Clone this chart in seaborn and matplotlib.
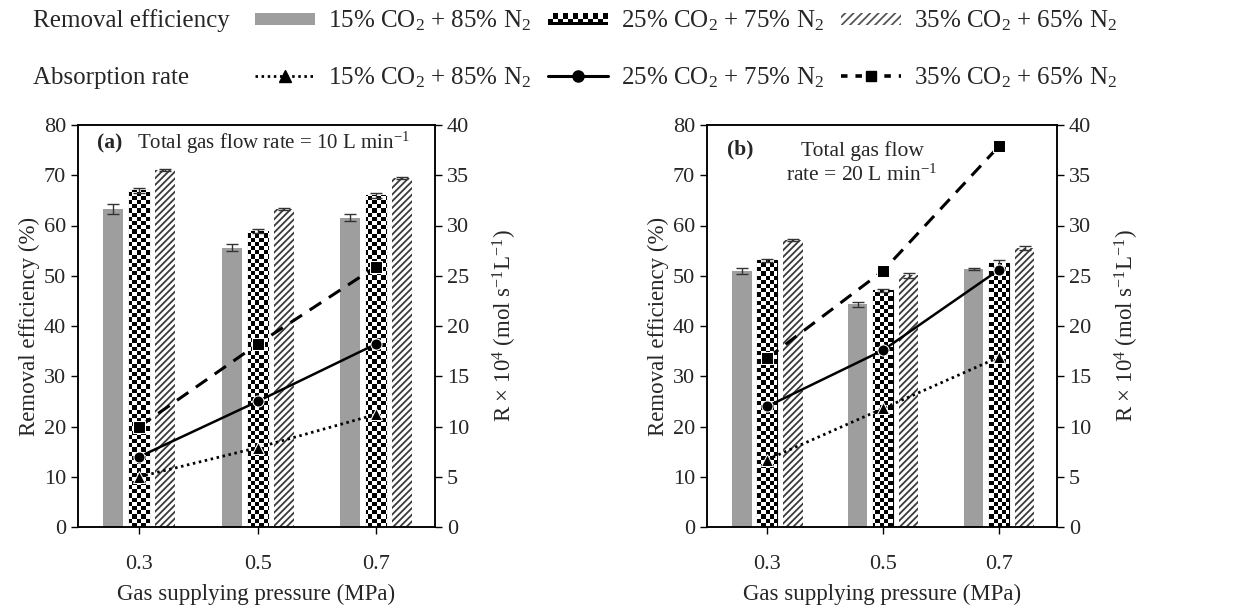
import numpy as np
import pandas as pd
import matplotlib
matplotlib.use("Agg")
import matplotlib.pyplot as plt
import seaborn as sns
from matplotlib.patches import Patch, Rectangle
from matplotlib.lines import Line2D
from matplotlib.legend_handler import HandlerBase

# ---- data -------------------------------------------------------------
pressures = ["0.3", "0.5", "0.7"]
gas_labels = ["15% CO$_\\mathrm{2}$ + 85% N$_\\mathrm{2}$",
              "25% CO$_\\mathrm{2}$ + 75% N$_\\mathrm{2}$",
              "35% CO$_\\mathrm{2}$ + 65% N$_\\mathrm{2}$"]

# removal efficiency (%) and its error, 10 L/min
eff_a_15 = [63.2, 55.6, 61.5]
eff_a_25 = [67.0, 59.0, 66.0]
eff_a_35 = [71.0, 63.2, 69.4]
err_a_15 = [1.0, 0.7, 0.7]
err_a_25 = [0.5, 0.4, 0.5]
err_a_35 = [0.2, 0.2, 0.2]

# removal efficiency (%) and its error, 20 L/min
eff_b_15 = [51.0, 44.3, 51.3]
eff_b_25 = [53.1, 47.1, 52.5]
eff_b_35 = [57.2, 50.1, 55.5]
err_b_15 = [0.6, 0.5, 0.2]
err_b_25 = [0.3, 0.3, 0.7]
err_b_35 = [0.2, 0.5, 0.4]

# absorption rate R x 10^4 (mol s^-1 L^-1)
rate_a_15 = [5.0, 7.9, 11.2]
rate_a_25 = [7.0, 12.5, 18.2]
rate_a_35 = [10.0, 18.2, 25.9]
rate_b_15 = [6.7, 11.8, 16.9]
rate_b_25 = [12.0, 17.6, 25.6]
rate_b_35 = [16.8, 25.5, 37.9]

panel_titles = ["(a)", "(b)"]
flow_texts = ["Total gas flow rate = 10 L min$^{-1}$",
              "Total gas flow\nrate = 20 L min$^{-1}$"]

# ---- style ------------------------------------------------------------
sns.set_style("ticks")
plt.rcParams["font.family"] = ["Liberation Serif", "DejaVu Serif"]
plt.rcParams["mathtext.fontset"] = "custom"
plt.rcParams["mathtext.rm"] = "Liberation Serif"
plt.rcParams["mathtext.it"] = "Liberation Serif:italic"
plt.rcParams["mathtext.bf"] = "Liberation Serif:bold"
plt.rcParams["hatch.linewidth"] = 1.3

GRAY = "#9e9e9e"
FS_TICK = 16
FS_LABEL = 16.5
FS_NOTE = 15.5
FS_LEG = 18

fig = plt.figure(figsize=(12.49, 6.12), dpi=100)
W, H = 1249, 612


def add_axes_px(left, right, top, bottom):
    return fig.add_axes([left / W, 1 - bottom / H, (right - left) / W, (bottom - top) / H])


ax_a = add_axes_px(78, 435, 125, 527)
ax_b = add_axes_px(707, 1057, 125, 527)


def checker_fill(ax, bar, cell_px=4.2):
    """Overlay a black/white checkerboard on a bar, clipped to its outline."""
    bb = ax.get_window_extent()
    nx = int(round(bb.width / cell_px))
    ny = int(round(bb.height / cell_px))
    board = (np.add.outer(np.arange(ny), np.arange(nx)) % 2).astype(float)
    im = ax.imshow(board, cmap="gray", vmin=0, vmax=1, extent=[0, 1, 0, 1],
                   transform=ax.transAxes, aspect="auto",
                   interpolation="nearest", zorder=1.5)
    im.set_clip_path(bar)


def draw_panel(ax, effs, errs, rates, title, flow_text, two_line):
    df = pd.DataFrame({
        "pressure": np.repeat([pressures], 3, axis=0).ravel(),
        "gas": np.repeat(gas_labels, 3),
        "eff": np.concatenate(effs),
    })
    sns.barplot(data=df, x="pressure", y="eff", hue="gas", order=pressures,
                hue_order=gas_labels, palette=[GRAY, "white", "white"],
                width=0.66, gap=0.23, errorbar=None, legend=False,
                linewidth=0, ax=ax, zorder=1)

    containers = ax.containers
    # 25 % bars: checkerboard with a black outline
    for bar in containers[1]:
        bar.set_edgecolor("black")
        bar.set_linewidth(0.8)
    # 35 % bars: dense diagonal hatch
    for bar in containers[2]:
        bar.set_hatch("/////")
        bar.set_edgecolor("#3a3a3a")
        bar.set_linewidth(0)

    ax.set_xlim(-0.52, 2.5)
    ax.set_ylim(0, 80)
    for bar in containers[1]:
        checker_fill(ax, bar)

    # error bars on each bar
    for cont, err in zip(containers, errs):
        xs = [b.get_x() + b.get_width() / 2 for b in cont]
        ys = [b.get_height() for b in cont]
        ax.errorbar(xs, ys, yerr=err, fmt="none", ecolor="#333333",
                    elinewidth=1.0, capsize=4, capthick=1.0, zorder=3)

    ax.set_xlim(-0.52, 2.5)
    ax.set_ylim(0, 80)
    ax.set_yticks(np.arange(0, 81, 10))
    ax.tick_params(axis="both", labelsize=FS_TICK, length=5, width=1,
                   color="black", direction="out")
    ax.tick_params(axis="x", pad=15)
    ax.set_xlabel("Gas supplying pressure (MPa)", fontsize=FS_LABEL, labelpad=7)
    ax.set_ylabel("Removal efficiency (%)", fontsize=FS_LABEL, labelpad=3)
    for sp in ax.spines.values():
        sp.set_linewidth(1.1)
        sp.set_color("black")

    # absorption rate on the secondary axis
    ax2 = ax.twinx()
    idx = np.arange(len(pressures))
    styles = [
        dict(linestyle=(0, (0.9, 1.3)), marker="^", markersize=8, linewidth=2.0),
        dict(linestyle="-", marker="o", markersize=8, linewidth=1.8),
        dict(linestyle=(0, (4.5, 3.0)), marker="s", markersize=8, linewidth=2.2),
    ]
    for r, st in zip(rates, styles):
        sns.lineplot(x=idx, y=r, ax=ax2, color="black", **st, zorder=4)
    ax2.set_ylim(0, 40)
    ax2.set_yticks(np.arange(0, 41, 5))
    ax2.set_xlim(-0.52, 2.5)
    ax2.tick_params(axis="y", labelsize=FS_TICK, length=5, width=1,
                    color="black", direction="out")
    ax2.set_ylabel("R × 10$^4$ (mol s$^{-1}$L$^{-1}$)", fontsize=FS_LABEL,
                   labelpad=16)
    for sp in ax2.spines.values():
        sp.set_linewidth(1.1)
        sp.set_color("black")

    if two_line:
        ax.text(0.057, 0.938, title, transform=ax.transAxes, fontsize=FS_NOTE,
                fontweight="bold", ha="left", va="center")
        ax.text(0.443, 0.905, flow_text, transform=ax.transAxes,
                fontsize=FS_NOTE, ha="center", va="center", linespacing=1.25)
    else:
        ax.text(0.053, 0.955, title, transform=ax.transAxes, fontsize=FS_NOTE,
                fontweight="bold", ha="left", va="center")
        ax.text(0.165, 0.955, flow_text, transform=ax.transAxes,
                fontsize=15, ha="left", va="center")


draw_panel(ax_a, [eff_a_15, eff_a_25, eff_a_35], [err_a_15, err_a_25, err_a_35],
           [rate_a_15, rate_a_25, rate_a_35], panel_titles[0], flow_texts[0], False)
draw_panel(ax_b, [eff_b_15, eff_b_25, eff_b_35], [err_b_15, err_b_25, err_b_35],
           [rate_b_15, rate_b_25, rate_b_35], panel_titles[1], flow_texts[1], True)


# ---- legend -----------------------------------------------------------
class CheckerHandler(HandlerBase):
    def create_artists(self, legend, orig_handle, xdescent, ydescent,
                       width, height, fontsize, trans):
        arts = []
        ncol = 12
        cw = width / ncol
        ch = height / 2
        for i in range(ncol):
            row = i % 2
            arts.append(Rectangle((-xdescent + i * cw, -ydescent + row * ch),
                                  cw, ch, facecolor="black", edgecolor="none",
                                  transform=trans))
        arts.append(Rectangle((-xdescent, -ydescent), width, height * 0.25,
                              facecolor="black", edgecolor="none",
                              transform=trans))
        return arts


class CheckerKey:
    pass


bar_handles = [
    Patch(facecolor=GRAY, edgecolor="none"),
    CheckerKey(),
    Patch(facecolor="white", edgecolor="#555555", hatch="////", linewidth=0),
]
line_handles = [
    Line2D([], [], color="black", linestyle=(0, (0.9, 1.3)), linewidth=2.0,
           marker="^", markersize=8),
    Line2D([], [], color="black", linestyle="-", linewidth=2.2,
           marker="o", markersize=8),
    Line2D([], [], color="black", linestyle=(0, (1.8, 2.2)), linewidth=2.6,
           marker="s", markersize=7.5),
]

common = dict(ncol=3, loc="center left", frameon=False, fontsize=FS_LEG,
              handlelength=2.4, handletextpad=0.5, columnspacing=0.7,
              borderpad=0, borderaxespad=0)
fig.legend(bar_handles, gas_labels, bbox_to_anchor=(255 / W, 1 - 21 / H),
           handleheight=0.35, handler_map={CheckerKey: CheckerHandler()}, **common)
fig.legend(line_handles, gas_labels, bbox_to_anchor=(255 / W, 1 - 78 / H),
           **common)
fig.text(33 / W, 1 - 21 / H, "Removal efficiency", fontsize=FS_LEG,
         ha="left", va="center")
fig.text(33 / W, 1 - 78 / H, "Absorption rate", fontsize=FS_LEG,
         ha="left", va="center")

fig.savefig("out.png", dpi=100, facecolor="white")
